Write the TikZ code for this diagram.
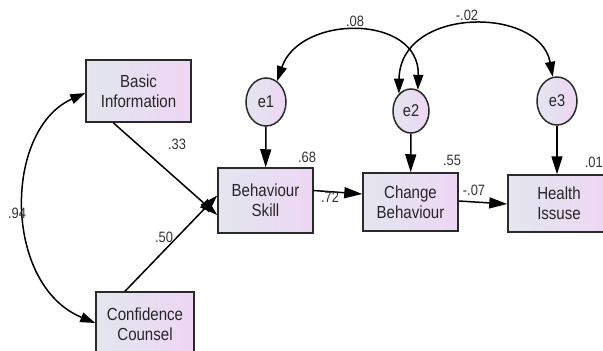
\documentclass[tikz,border=0pt]{standalone}
\usepackage{fontspec}
\setmainfont{Liberation Sans}
\newfontfamily\boxfont[FakeStretch=0.86]{Liberation Sans}
\usetikzlibrary{shapes.geometric,arrows.meta}
\definecolor{lft}{HTML}{E2E6EE}
\definecolor{rgt}{HTML}{EED6F4}
\definecolor{edge}{HTML}{2A2A2A}
\begin{document}
\begin{tikzpicture}[x=1pt,y=-1pt,
  var/.style={draw=edge,line width=1.5pt,left color=lft,right color=rgt,inner sep=0pt,
    align=center,font=\boxfont\fontsize{17.5}{20}\selectfont,text=black!85},
  err/.style={ellipse,draw=edge,line width=1.5pt,left color=lft,right color=rgt,inner sep=0pt,
    font=\boxfont\fontsize{17}{18}\selectfont,text=black!85},
  lbl/.style={font=\boxfont\fontsize{15}{16}\selectfont,text=black!80,inner sep=0pt},
  path1/.style={draw=black,line width=1.5pt,-{Triangle[length=18pt,width=11pt]}},
  cov/.style={draw=black,line width=1.5pt,{Triangle[length=15pt,width=10pt]}-{Triangle[length=15pt,width=10pt]}}]
\useasboundingbox (0,0) rectangle (603,351);
\node[var,minimum width=105pt,minimum height=62pt] (bi) at (138.5,91) {Basic\\Information};
\node[var,minimum width=98pt,minimum height=64pt] (cc) at (145,324) {Confidence\\Counsel};
\node[var,minimum width=95pt,minimum height=65pt] (bs) at (265.5,200.5) {Behaviour\\Skill};
\node[var,minimum width=95pt,minimum height=58pt] (cb) at (410.5,202) {Change\\Behaviour};
\node[var,minimum width=102pt,minimum height=57pt] (hi) at (559,203.5) {Health\\Issuse};
\node[err,minimum width=40pt,minimum height=48pt] (e1) at (266,102) {e1};
\node[err,minimum width=36pt,minimum height=44pt] (e2) at (411,111) {e2};
\node[err,minimum width=40pt,minimum height=48pt] (e3) at (557,101) {e3};
\draw[path1] (e1) -- (bs);
\draw[path1] (e2) -- (cb);
\draw[path1] (e3.south) -- (hi.north -| e3.south);
\coordinate (biout) at ([xshift=28pt]bi.south west);
\draw[path1] (biout) -- ([yshift=-14.5pt]bs.west);
\draw[path1] ([xshift=-20pt]cc.north) -- ([yshift=5pt]bs.west);
\draw[path1] ([yshift=10pt]bs.east) -- ([yshift=8pt]cb.west);
\draw[path1] ([yshift=1pt]cb.east) -- ([yshift=-0.5pt]hi.west);
\draw[cov] (e1.62) .. controls (300,14) and (420,14) .. (e2.72);
\draw[cov] (e2.125) .. controls (400,6) and (540,6) .. (e3.100);
\draw[cov] ([yshift=-2pt]bi.west) .. controls (3,130) and (3,285) .. ([yshift=1pt]cc.west);
\node[lbl] (l08) at (355,21) {.08};
\node[lbl] (l02) at (467,15) {-.02};
\node[lbl] (l68) at (307,157) {.68};
\node[lbl] (l55) at (452,160) {.55};
\node[lbl,anchor=east] (l01) at (603,162) {.01};
\node[lbl] (l33) at (177,144) {.33};
\node[lbl] (l50) at (164,237) {.50};
\node[lbl] (l94) at (17,213) {.94};
\node[lbl] (l72) at (330,197) {.72};
\node[lbl] (l07) at (474,190) {-.07};
\end{tikzpicture}
\end{document}
